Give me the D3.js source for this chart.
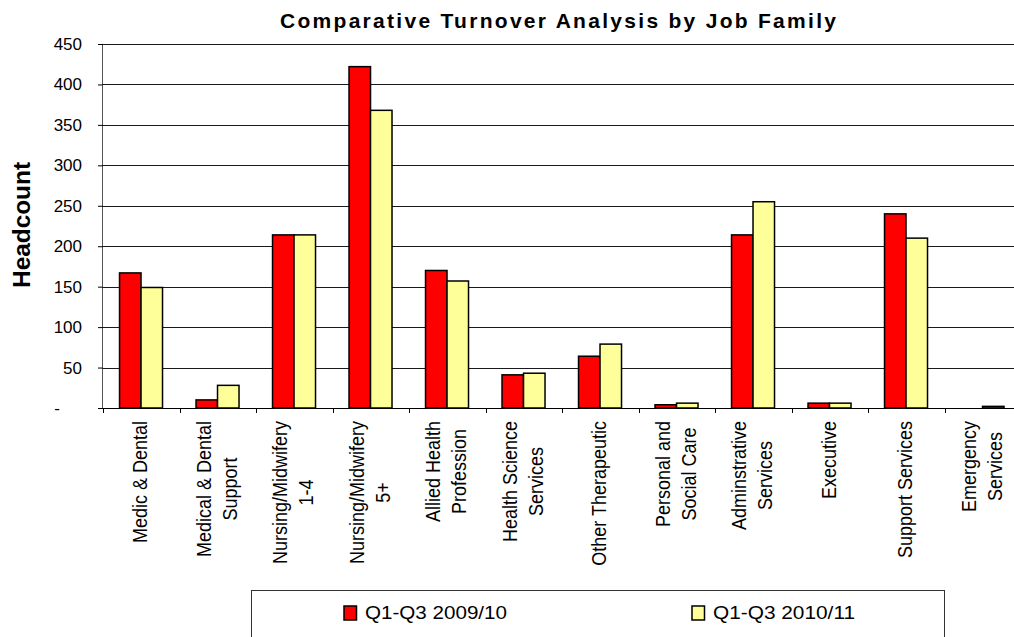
<!DOCTYPE html>
<html><head><meta charset="utf-8">
<script src="https://cdn.jsdelivr.net/npm/d3@7"></script>
<style>
html,body{margin:0;padding:0;background:#fff;overflow:hidden}
text{font-family:"Liberation Sans",Arial,sans-serif;fill:#000}
</style></head>
<body>
<svg id="chart" width="1014" height="637"></svg>
<script>
const categories = [
  ["Medic  & Dental"],
  ["Medical & Dental", "Support"],
  ["Nursing/Midwifery", "1-4"],
  ["Nursing/Midwifery", "5+"],
  ["Allied Health", "Profession"],
  ["Health Science", "Services"],
  ["Other Therapeutic"],
  ["Personal and", "Social Care"],
  ["Adminstrative", "Services"],
  ["Executive"],
  ["Support Services"],
  ["Emergency", "Services"]
];
const seriesNames = ["Q1-Q3 2009/10", "Q1-Q3 2010/11"];
const series2009 = [167, 10, 214, 422, 170, 41, 64, 4, 214, 6, 240, 0];
const series2010 = [149, 28, 214, 368, 157, 43, 79, 6, 255, 6, 210, 2];
const yTicks = [0, 50, 100, 150, 200, 250, 300, 350, 400, 450];
const colors = ["#FF0000", "#FFFF99"];
const chartTitle = "Comparative Turnover Analysis by Job Family";
const yTitle = "Headcount";

const svg = d3.select("#chart");
const pLeft = 103, pRight = 1021, pTop = 44, pBottom = 408;
const catKeys = categories.map((c, i) => i);
const x = d3.scaleBand().domain(catKeys).range([pLeft, pRight]).padding(0);
const step = x.step();
const xInner = d3.scaleBand().domain([0, 1]).range([step * 0.216, step * 0.778]).padding(0);
const y = d3.scaleLinear().domain([0, 450]).range([pBottom, pTop]);

// gridlines
svg.append("g").selectAll("line").data(yTicks.filter(d => d > 0)).join("line")
  .attr("x1", pLeft).attr("x2", pRight)
  .attr("y1", d => Math.round(y(d)) + 0.5).attr("y2", d => Math.round(y(d)) + 0.5)
  .attr("stroke", "#1a1a1a").attr("stroke-width", 1);

// bars
const data = [series2009, series2010];
const groups = svg.append("g").selectAll("g").data(catKeys).join("g")
  .attr("transform", i => `translate(${x(i)},0)`);
groups.selectAll("rect").data(i => data.map((s, k) => ({k, v: s[i]})).filter(d => d.v > 0)).join("rect")
  .attr("x", d => xInner(d.k))
  .attr("width", xInner.bandwidth())
  .attr("y", d => y(d.v))
  .attr("height", d => y(0) - y(d.v))
  .attr("fill", d => colors[d.k])
  .attr("stroke", "#000").attr("stroke-width", 1.5);

// y axis
const yAxis = d3.axisLeft(y).tickValues(yTicks).tickSize(5).tickPadding(16)
  .tickFormat(d => d === 0 ? "-" : d);
const ya = svg.append("g").attr("transform", `translate(${pLeft},0)`).call(yAxis);
ya.select(".domain").attr("stroke", "#555").attr("d", `M-0.5,${pTop}V${pBottom}`);
ya.selectAll(".tick line").attr("stroke", "#000");
ya.selectAll(".tick text").attr("font-size", 17).attr("font-family", "Liberation Sans, Arial, sans-serif").attr("fill", "#000")
  .attr("dx", d => d === 0 ? -22 : 0);

// x axis baseline and ticks
svg.append("line").attr("x1", pLeft).attr("x2", pRight).attr("y1", pBottom + 0.5).attr("y2", pBottom + 0.5)
  .attr("stroke", "#000").attr("stroke-width", 1.2);
svg.append("g").selectAll("line").data(catKeys.concat([catKeys.length])).join("line")
  .attr("x1", i => Math.round(pLeft + i * step) + 0.5).attr("x2", i => Math.round(pLeft + i * step) + 0.5)
  .attr("y1", pBottom).attr("y2", pBottom + 5).attr("stroke", "#000");

// x labels (rotated, multi-line, centered lines)
const fsX = 18, lh = 22.6, sx = 1.15;
catKeys.forEach(i => {
  const lines = categories[i];
  const cx = x(i) + step / 2;
  const g = svg.append("g");
  const texts = lines.map(l => g.append("text").attr("font-size", fsX).attr("text-anchor", "middle").text(l));
  const maxW = d3.max(texts, t => t.node().getComputedTextLength());
  const cy = 421 + maxW / 2;
  g.attr("transform", `translate(${cx},${cy}) scale(${sx},1) rotate(-90)`);
  const n = lines.length;
  texts.forEach((t, j) => {
    t.attr("x", 0).attr("y", (6 / sx) + (j - (n - 1) / 2) * lh);
  });
});

// title
svg.append("text").attr("x", 558).attr("y", 28).attr("text-anchor", "middle")
  .attr("font-size", 21).attr("font-weight", "bold")
  .attr("textLength", 556).attr("lengthAdjust", "spacing").text(chartTitle);

// y title
svg.append("text").attr("transform", "translate(30,225) scale(1.15,1) rotate(-90)")
  .attr("text-anchor", "middle").attr("font-size", 21).attr("font-weight", "bold")
  .attr("textLength", 126).attr("lengthAdjust", "spacingAndGlyphs").text(yTitle);

// legend
svg.append("rect").attr("x", 251.5).attr("y", 590.5).attr("width", 693).attr("height", 60)
  .attr("fill", "#fff").attr("stroke", "#333").attr("stroke-width", 1);
const legX = [344, 692];
seriesNames.forEach((name, k) => {
  svg.append("rect").attr("x", legX[k]).attr("y", 606).attr("width", 12.5).attr("height", 14)
    .attr("fill", colors[k]).attr("stroke", "#000").attr("stroke-width", 1.5);
  svg.append("text").attr("x", legX[k] + 21).attr("y", 619).attr("font-size", 18)
    .attr("textLength", 142).attr("lengthAdjust", "spacingAndGlyphs").text(name);
});
</script>
</body></html>
